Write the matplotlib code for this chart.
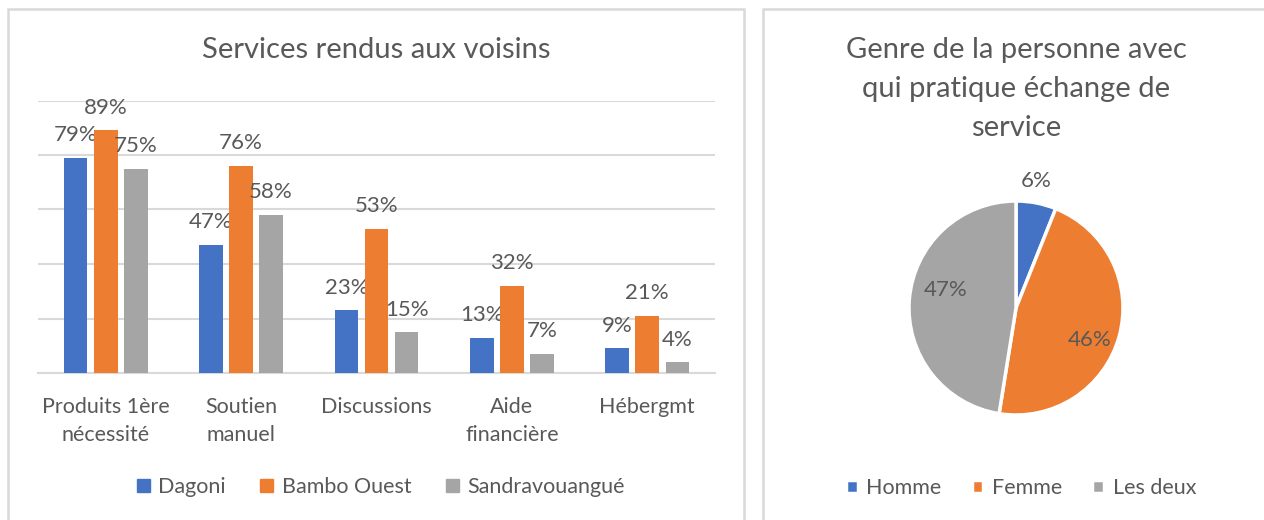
import matplotlib
matplotlib.use('Agg')
import matplotlib.pyplot as plt
from matplotlib.patches import Rectangle, Patch
import numpy as np

plt.rcParams['font.family'] = ['Lato', 'DejaVu Sans']

# --- données : services rendus ---
categories = ['Produits 1ère\nnécessité', 'Soutien\nmanuel', 'Discussions',
              'Aide\nfinancière', 'Hébergmt']
series_names = ['Dagoni', 'Bambo Ouest', 'Sandravouangué']
dagoni = [79, 47, 23, 13, 9]
bambo_ouest = [89, 76, 53, 32, 21]
sandravouangue = [75, 58, 15, 7, 4]

# --- données : genre ---
genre_labels = ['Homme', 'Femme', 'Les deux']
genre_values = [6, 46, 47]

BLUE = '#4472C4'
ORANGE = '#ED7D31'
GREY = '#A5A5A5'
TXT = '#595959'
GRID = '#D9D9D9'

W, H = 1264, 520
fig = plt.figure(figsize=(W / 100, H / 100), dpi=100)


def px_axes(x0, y0, x1, y1):
    # rectangle en pixels (origine en haut à gauche)
    return fig.add_axes([x0 / W, 1 - y1 / H, (x1 - x0) / W, (y1 - y0) / H])


# cadres des deux graphiques
fig.add_artist(Rectangle((8 / W, -0.1), (744 - 8) / W, 1.1 - 9 / H,
                         transform=fig.transFigure, fill=False,
                         edgecolor=GRID, linewidth=1.8))
fig.add_artist(Rectangle((763 / W, -0.1), 1.0, 1.1 - 9 / H,
                         transform=fig.transFigure, fill=False,
                         edgecolor=GRID, linewidth=1.8))

# ---------- histogramme ----------
ax = px_axes(38, 100.5, 715, 373)
x = np.arange(len(categories))
bw = 0.175
pitch = 0.222
series = [dagoni, bambo_ouest, sandravouangue]
colors = [BLUE, ORANGE, GREY]
for i, (vals, col, name) in enumerate(zip(series, colors, series_names)):
    vals = np.array(vals) / 100
    bars = ax.bar(x + (i - 1) * pitch, vals, bw, color=col, label=name, zorder=3)
    ax.bar_label(bars, labels=[f'{v}%' for v in series[i]], padding=9,
                 fontsize=16, color=TXT)

ax.set_xlim(-0.5, len(categories) - 0.5)
ax.set_ylim(0, 1.0)
ax.set_yticks(np.arange(0, 1.01, 0.2))
ax.yaxis.grid(True, color=GRID, linewidth=1.5, zorder=0)
ax.tick_params(axis='y', left=False, labelleft=False)
ax.tick_params(axis='x', length=0, pad=17, labelsize=15.5, labelcolor=TXT)
ax.set_xticks(x)
ax.set_xticklabels(categories, linespacing=1.55)
for s in ['top', 'right', 'left']:
    ax.spines[s].set_visible(False)
ax.spines['bottom'].set_color(GRID)
ax.spines['bottom'].set_linewidth(1.5)

fig.text(376 / W, 1 - 50 / H, 'Services rendus aux voisins', ha='center',
         va='center', fontsize=21, color=TXT)

handles = [Patch(color=c) for c in colors]
fig.legend(handles, series_names, loc='center', bbox_to_anchor=(381 / W, 1 - 487 / H),
           ncol=3, frameon=False, fontsize=15.5, labelcolor=TXT,
           handlelength=0.6, handleheight=0.6, handletextpad=0.4,
           columnspacing=1.6)

# ---------- camembert ----------
cx, cy, r = 1016, 308, 107
pax = px_axes(cx - r, cy - r, cx + r, cy + r)
wedges, _ = pax.pie(genre_values, colors=[BLUE, ORANGE, GREY], startangle=90,
                    counterclock=False, radius=1,
                    wedgeprops=dict(edgecolor='white', linewidth=2.5))
pax.set_xlim(-1, 1)
pax.set_ylim(-1, 1)
pax.set_aspect('auto')

# étiquettes des parts
label_pos = [(1.2, 2), (0.75, -8), (0.68, -10)]
for w, v, (rr, dang) in zip(wedges, genre_values, label_pos):
    ang = np.deg2rad((w.theta1 + w.theta2) / 2 + dang)
    pax.text(rr * np.cos(ang), rr * np.sin(ang), f'{v}%', ha='center',
             va='center', fontsize=16, color=TXT)

fig.text(1016 / W, 1 - 89 / H,
         'Genre de la personne avec\nqui pratique échange de\nservice',
         ha='center', va='center', fontsize=21, color=TXT, linespacing=1.6)

fig.legend(wedges, genre_labels, loc='center', bbox_to_anchor=(1021 / W, 1 - 488 / H),
           ncol=3, frameon=False, fontsize=15.5, labelcolor=TXT,
           handlelength=0.55, handleheight=0.55, handletextpad=0.4,
           columnspacing=1.4)

fig.savefig('out.png', dpi=100)
